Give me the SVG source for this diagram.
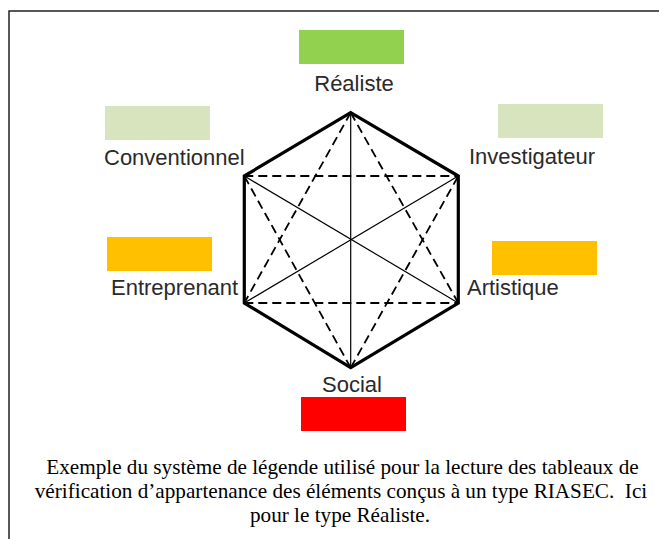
<svg xmlns="http://www.w3.org/2000/svg" width="659" height="539" viewBox="0 0 659 539">
<style>
.lbl{font-family:"Liberation Sans",Arial,sans-serif;font-size:22px;fill:#2a2a2a}
.cap{font-family:"Liberation Serif","Times New Roman",serif;font-size:21.2px;fill:#000}
.hex{fill:none;stroke:#000;stroke-width:3.2;stroke-linejoin:miter}
.dash{fill:none;stroke:#000;stroke-width:1.8;stroke-dasharray:9 5}
.thin{fill:none;stroke:#000;stroke-width:1.2}
</style>
<rect width="659" height="539" fill="#fff"/>
<path d="M9 539 V11 H659" fill="none" stroke="#222" stroke-width="1.5"/>
<g id="connectors">
<polygon class="hex" points="350.7,112.7 458.3,176 458.3,303 350.7,367.7 244.3,303 244.3,176"/>
<line class="dash" x1="244.3" y1="176" x2="458.3" y2="176"/>
<line class="dash" x1="244.3" y1="303" x2="458.3" y2="303"/>
<line class="dash" x1="350.7" y1="112.7" x2="244.3" y2="303"/>
<line class="dash" x1="350.7" y1="112.7" x2="458.3" y2="303"/>
<line class="dash" x1="350.7" y1="367.7" x2="244.3" y2="176"/>
<line class="dash" x1="350.7" y1="367.7" x2="458.3" y2="176"/>
<line class="thin" x1="350.7" y1="112.7" x2="350.7" y2="367.7"/>
<line class="thin" x1="244.3" y1="176" x2="458.3" y2="303"/>
<line class="thin" x1="458.3" y1="176" x2="244.3" y2="303"/>
</g>
<g id="realiste">
<rect x="299" y="30" width="105" height="34" fill="#92d050"/>
<text class="lbl" x="354" y="91" text-anchor="middle">Réaliste</text>
</g>
<g id="investigateur">
<rect x="498" y="104" width="105" height="34" fill="#d7e4bd"/>
<text class="lbl" x="469" y="164">Investigateur</text>
</g>
<g id="artistique">
<rect x="492" y="241" width="105" height="34" fill="#ffc000"/>
<text class="lbl" x="467" y="295">Artistique</text>
</g>
<g id="social">
<rect x="301" y="397" width="105" height="34" fill="#ff0000"/>
<text class="lbl" x="352" y="392" text-anchor="middle">Social</text>
</g>
<g id="entreprenant">
<rect x="107" y="237" width="105" height="34" fill="#ffc000"/>
<text class="lbl" x="111" y="295">Entreprenant</text>
</g>
<g id="conventionnel">
<rect x="105" y="106" width="105" height="34" fill="#d7e4bd"/>
<text class="lbl" x="104" y="165">Conventionnel</text>
</g>
<g id="caption">
<text class="cap" x="342.5" y="474" text-anchor="middle">Exemple du système de légende utilisé pour la lecture des tableaux de</text>
<text class="cap" x="341" y="498" text-anchor="middle" xml:space="preserve">vérification d’appartenance des éléments conçus à un type RIASEC.  Ici</text>
<text class="cap" x="340" y="522" text-anchor="middle">pour le type Réaliste.</text>
</g>
</svg>
